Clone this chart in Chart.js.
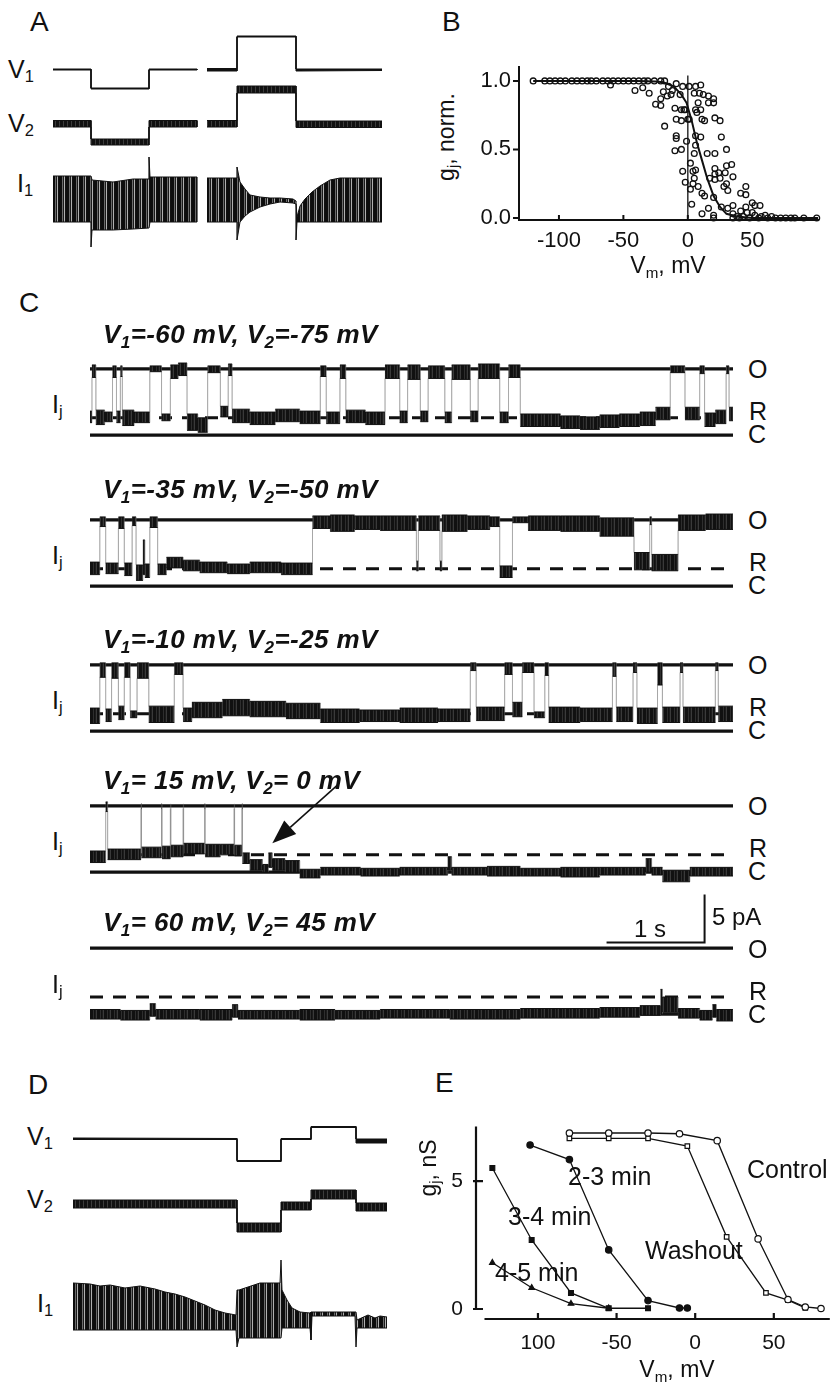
<!DOCTYPE html>
<html lang="en">
<head>
<meta charset="UTF-8">
<title>Junctional gating</title>
<script src="https://cdn.jsdelivr.net/npm/chart.js"></script>
<style>
  body { margin: 0; background: #fff; }
  #fig { position: relative; width: 835px; height: 1386px; overflow: hidden;
         font-family: 'Liberation Sans', Arial, Helvetica, sans-serif; color: #111; background: #fff; }
  #fig canvas { position: absolute; }
  .lbl { position: absolute; line-height: 1; white-space: nowrap; }
  .lbl sub { font-size: .66em; line-height: 0; vertical-align: baseline; position: relative; top: .28em; }
  .ttl { font-weight: bold; font-style: italic; letter-spacing: .4px; }
  .ctr { transform: translateX(-50%); }
  .rot { transform: translate(-50%, -50%) rotate(-90deg); }
</style>
</head>
<body>
<div id="fig"></div>
<script>
// ---------------- data ----------------
// Panel A: two sweeps, time in s, voltages in mV, current in nA.
// rows are [t, low, high] of the recorded trace, null starts the next sweep
const aV1 = [
  [0, -1, 1], [1.9, -1, 1], [1.9, -39, -37], [4.8, -39, -37], [4.8, -1, 1], [7.2, -1, 1], null,
  [7.7, -3, 2], [9.2, -3, 2], [9.2, 65, 67], [12.15, 65, 67], [12.15, -3, 1], [16.45, -2, 1]
];
const aV2 = [
  [0, -8, 5], [1.9, -8, 5], [1.9, -44, -32], [4.8, -44, -32], [4.8, -8, 5], [7.2, -8, 5], null,
  [7.7, -8, 5], [9.2, -8, 5], [9.2, 60, 74], [12.15, 60, 74], [12.15, -9, 4], [16.45, -9, 4]
];
const aI1 = [
  [0, 0, 4.6], [1.9, 0, 4.6], [1.9, -2.5, 4.6], [1.95, -0.8, 4.2], [3.0, -0.8, 4.0], [4.0, -0.7, 4.3],
  [4.8, -0.6, 4.3], [4.8, -0.6, 6.5], [4.85, 0, 4.5], [7.2, 0, 4.5], null,
  [7.7, 0, 4.4], [9.2, 0, 4.4], [9.2, -1.8, 5.5], [9.35, 0, 4.0], [9.6, 0.6, 3.3], [9.85, 1.0, 2.7],
  [10.35, 1.5, 2.5], [10.85, 1.8, 2.4], [11.35, 2.0, 2.4], [12.0, 1.9, 2.3], [12.15, 1.8, 2.1],
  [12.15, -1.8, 2.0], [12.2, 0, 0.5], [12.35, 0, 1.6], [12.6, 0, 2.3], [12.95, 0, 3.0],
  [13.35, 0, 3.6], [13.85, 0, 4.2], [14.35, 0, 4.4], [16.45, 0, 4.4]
];

// Panel B: normalized gj vs Vm, single points and Boltzmann fit
const bVm = [
  -120, -111, -107, -103, -99, -95, -90, -86, -82, -78, -75, -71, -66, -62, -58, -54, -50, -46, -42, -38, -34, -31, -26, -21, -18,
  -60, -41, -35, -30, -25, -21, -21, -18, -19, -16, -15, -13, -12, -10, -9, -9, -9, -10, -9, -6, -5, -5, -5, -4, -3, -2,
  -4, -2, -1, 0, 1, 1, 2, 2, 3, 5, 6, 4, 6, 4, 5, 6, 5, 6, 6, 8, 10, 10, 9, 11, 12, 13, 10, 8, 11, 13, 11, 16, 16, 15,
  16, 20, 20, 21, 21, 21, 21, 20, 20, 20, 21, 17, 25, 25, 24, 26, 26, 28, 29, 30, 30, 30, 31, 31, 34, 35, 35, 35, 35,
  41, 45, 45, 41, 45, 46, 50, 52, 56, 50, 38, 40, 43, 48, 52, 55, 57, 60, 62, 65, 68, 72, 76, 80, 83, 90, 100, 7
];
const bGj = [
  1, 1, 1, 1, 1, 1, 1, 1, 1, 1, 1, 1, 1, 1, 1, 1, 1, 1, 1, 1, 1, 1, 1, 1, 1,
  0.97, 0.93, 0.95, 0.91, 0.83, 0.82, 0.87, 0.67, 0.92, 0.89, 0.96, 0.90, 0.93, 0.80, 0.72, 0.60, 0.58, 0.49, 0.98, 0.90, 0.50, 0.71, 0.79, 0.96, 0.79, 0.79,
  0.34, 0.26, 0.56, 0.72, 0.72, 0.96, 0.40, 0.21, 0.10, 0.91, 0.96, 0.34, 0.35, 0.25, 0.29, 0.53, 0.47, 0.60, 0.79, 0.84, 0.79, 0.97, 0.91, 0.72, 0.90, 0.71, 0.59, 0.23, 0.18, 0.16, 0.03, 0.89, 0.07, 0.47,
  0.84, 0.87, 0.84, 0.47, 0.36, 0.32, 0.28, 0.15, 0.02, 0.0, 0.73, 0.29, 0.71, 0.29, 0.33, 0.08, 0.59, 0.23, 0.33, 0.50, 0.38, 0.25, 0.20, 0.07, 0.39, 0.30, 0.09, 0.03, 0.0,
  0.18, 0.17, 0.23, 0.05, 0.08, 0.04, 0.11, 0.09, 0.09, 0.04, 0.01, 0.0, 0.01, 0.0, 0.02, 0.0, 0.01, 0.02, 0.0, 0.01, 0.0, 0.0, 0.0, 0.0, 0.0, 0.0, 0.0, 0.77
];
const bFitVm = [-120, -40, -25, -19, -11, -5, -1, 3, 7, 11, 15, 20, 25, 30, 38, 50, 101];
const bFitGj = [1.0, 1.0, 0.995, 0.99, 0.96, 0.90, 0.84, 0.71, 0.55, 0.42, 0.29, 0.16, 0.08, 0.03, 0.01, 0.0, 0.0];
const bXTicks = [-100, -50, 0, 50];
const bYTicks = [0, 0.5, 1.0];

// Panel C: single-channel records, time in s, current in pA (closed = 0).
// each dwell is [start, end, low, high]
const levelO = 6.9, levelR = 1.8, levelC = 0, traceEnd = 6.56;
const cTrace1 = [
  [0, .02, 1.3, 2.5], [.02, .06, 6.0, 7.3], [.06, .15, 1.1, 2.6], [.15, .23, 1.4, 2.4], [.23, .27, 6.0, 7.2],
  [.27, .31, 1.3, 2.5], [.31, .33, 6.1, 7.2], [.33, .45, 1.0, 2.6], [.45, .61, 1.3, 2.4], [.61, .73, 6.6, 7.2],
  [.73, .82, 1.5, 2.2], [.82, .90, 5.9, 7.3], [.90, .99, 6.2, 7.5], [.99, 1.10, 0.5, 2.2], [1.10, 1.20, 0.3, 1.8],
  [1.20, 1.33, 6.5, 7.2], [1.33, 1.41, 1.9, 3.0], [1.41, 1.45, 6.2, 7.4], [1.45, 1.63, 1.3, 2.7], [1.63, 1.89, 1.1, 2.4],
  [1.89, 2.14, 1.4, 2.7], [2.14, 2.35, 1.2, 2.5], [2.35, 2.41, 6.1, 7.2], [2.41, 2.55, 1.2, 2.4], [2.55, 2.61, 5.9, 7.3],
  [2.61, 2.81, 1.3, 2.6], [2.81, 3.01, 1.1, 2.4], [3.01, 3.16, 5.9, 7.3], [3.16, 3.24, 1.3, 2.5], [3.24, 3.37, 5.8, 7.3],
  [3.37, 3.45, 1.4, 2.5], [3.45, 3.62, 5.9, 7.2], [3.62, 3.69, 1.3, 2.4], [3.69, 3.88, 5.8, 7.3], [3.88, 3.96, 1.4, 2.5],
  [3.96, 4.18, 5.9, 7.4], [4.18, 4.27, 1.3, 2.4], [4.27, 4.39, 6.0, 7.3], [4.39, 4.80, 0.9, 2.2], [4.80, 5.00, 0.7, 2.0],
  [5.00, 5.20, 0.6, 1.9], [5.20, 5.40, 0.8, 2.1], [5.40, 5.61, 0.9, 2.2], [5.61, 5.77, 1.0, 2.4], [5.77, 5.92, 1.6, 2.9],
  [5.92, 6.07, 6.5, 7.2], [6.07, 6.22, 1.6, 2.9], [6.22, 6.27, 6.4, 7.2], [6.27, 6.38, 0.9, 2.3], [6.38, 6.49, 1.2, 2.6],
  [6.49, 6.52, 6.4, 7.2], [6.52, 6.56, 1.5, 2.9]
];
const cTrace2 = [
  [0, .10, 1.2, 2.5], [.10, .16, 6.2, 7.2], [.16, .29, 1.3, 2.4], [.29, .35, 6.0, 7.2], [.35, .43, 1.1, 2.4],
  [.43, .47, 6.3, 7.2], [.47, .54, 0.6, 2.2], [.54, .56, 1.2, 4.8], [.56, .61, 0.9, 2.3], [.61, .69, 6.1, 7.2],
  [.69, .78, 1.2, 2.3], [.78, .95, 1.9, 3.0], [.95, 1.12, 1.6, 2.7], [1.12, 1.40, 1.4, 2.5], [1.40, 1.63, 1.3, 2.3],
  [1.63, 1.95, 1.4, 2.5], [1.95, 2.27, 1.2, 2.4], [2.27, 2.45, 6.0, 7.3], [2.45, 2.70, 5.7, 7.4], [2.70, 2.96, 5.9, 7.3],
  [2.96, 3.33, 5.8, 7.3], [3.33, 3.35, 1.6, 2.6], [3.35, 3.57, 5.8, 7.3], [3.57, 3.59, 1.6, 2.6], [3.59, 3.85, 5.7, 7.4],
  [3.85, 4.08, 5.9, 7.3], [4.08, 4.18, 6.2, 7.2], [4.18, 4.31, 0.9, 2.1], [4.31, 4.47, 6.6, 7.2], [4.47, 4.80, 5.8, 7.3],
  [4.80, 5.20, 5.7, 7.3], [5.20, 5.55, 5.2, 7.1], [5.55, 5.71, 1.7, 3.5], [5.71, 5.73, 6.4, 7.2], [5.73, 6.00, 1.6, 3.3],
  [6.00, 6.28, 5.8, 7.4], [6.28, 6.56, 5.9, 7.5]
];
const cTrace3 = [
  [0, .10, 0.8, 2.4], [.10, .16, 5.6, 7.1], [.16, .22, 1.0, 2.3], [.22, .29, 5.5, 7.1], [.29, .35, 1.2, 2.6],
  [.35, .41, 5.6, 7.1], [.41, .48, 1.4, 2.1], [.48, .60, 5.5, 7.1], [.60, .86, 0.9, 2.6], [.86, .95, 5.9, 7.1],
  [.95, 1.04, 1.0, 2.4], [1.04, 1.35, 1.4, 3.0], [1.35, 1.63, 1.6, 3.3], [1.63, 2.00, 1.5, 3.1], [2.00, 2.35, 1.3, 2.9],
  [2.35, 2.75, 0.9, 2.3], [2.75, 3.16, 1.0, 2.2], [3.16, 3.55, 0.9, 2.4], [3.55, 3.88, 1.0, 2.3], [3.88, 3.94, 6.3, 7.1],
  [3.94, 4.23, 1.1, 2.5], [4.23, 4.31, 5.9, 7.1], [4.31, 4.41, 1.5, 3.0], [4.41, 4.53, 6.1, 7.1], [4.53, 4.64, 1.4, 2.0],
  [4.64, 4.68, 5.8, 7.1], [4.68, 5.00, 0.9, 2.5], [5.00, 5.33, 1.0, 2.4], [5.33, 5.37, 5.7, 7.1], [5.37, 5.54, 1.0, 2.5],
  [5.54, 5.58, 6.1, 7.1], [5.58, 5.79, 0.8, 2.4], [5.79, 5.84, 4.8, 7.1], [5.84, 6.02, 0.9, 2.5], [6.02, 6.05, 6.1, 7.1],
  [6.05, 6.38, 0.9, 2.5], [6.38, 6.41, 6.3, 7.1], [6.41, 6.56, 1.0, 2.6]
];
const cTrace4 = [
  [0, .16, 1.0, 2.2], [.16, .18, 6.3, 7.3], [.18, .52, 1.3, 2.4], [.52, .525, 6.6, 7.1], [.525, .73, 1.5, 2.6],
  [.73, .735, 6.6, 7.1], [.735, .82, 1.4, 2.7], [.82, .825, 6.6, 7.1], [.825, .95, 1.6, 2.8], [.95, .955, 6.6, 7.1],
  [.955, 1.17, 1.9, 3.0], [1.17, 1.175, 6.6, 7.1], [1.175, 1.33, 1.6, 2.9], [1.33, 1.47, 1.8, 2.9], [1.47, 1.475, 6.6, 7.1],
  [1.475, 1.55, 1.7, 2.8], [1.55, 1.555, 6.6, 7.1], [1.555, 1.63, 0.9, 2.0], [1.63, 1.76, 0.2, 1.3], [1.76, 1.82, 0.0, 0.8],
  [1.82, 1.86, 0.5, 2.0], [1.86, 1.99, 0.2, 1.4], [1.99, 2.14, 0.0, 1.2], [2.14, 2.35, -0.6, 0.3], [2.35, 2.76, -0.3, 0.5],
  [2.76, 3.16, -0.4, 0.4], [3.16, 3.65, -0.3, 0.5], [3.65, 3.69, 0.2, 1.6], [3.69, 4.05, -0.3, 0.5], [4.05, 4.39, -0.4, 0.6],
  [4.39, 4.80, -0.4, 0.4], [4.80, 5.20, -0.5, 0.5], [5.20, 5.67, -0.3, 0.5], [5.67, 5.73, 0.0, 1.4], [5.73, 5.84, -0.3, 0.5],
  [5.84, 6.12, -1.0, 0.2], [6.12, 6.56, -0.4, 0.5]
];
const cTrace5 = [
  [0, .31, -0.5, 0.5], [.31, .61, -0.6, 0.4], [.61, .67, -0.2, 1.1], [.67, 1.12, -0.5, 0.5], [1.12, 1.45, -0.6, 0.5],
  [1.45, 1.51, -0.3, 1.0], [1.51, 2.14, -0.5, 0.4], [2.14, 2.50, -0.6, 0.5], [2.50, 2.96, -0.5, 0.4], [2.96, 3.67, -0.4, 0.5],
  [3.67, 4.39, -0.5, 0.5], [4.39, 5.20, -0.4, 0.6], [5.20, 5.61, -0.3, 0.7], [5.61, 5.82, -0.1, 0.9], [5.82, 5.84, 0.0, 2.6],
  [5.84, 6.00, 0.2, 1.8], [6.00, 6.22, -0.4, 0.6], [6.22, 6.35, -0.6, 0.4], [6.35, 6.39, -0.3, 1.0], [6.39, 6.56, -0.7, 0.5]
];
const scaleBarT = 1, scaleBarI = 5;

// Panel D: one long sweep, same units as panel A
const dV1 = [
  [0, -1, 2], [8.2, -1, 1], [8.2, -45, -43], [10.4, -45, -43], [10.4, -1, 1], [11.9, -1, 1],
  [11.9, 23, 25], [14.15, 23, 25], [14.15, -8, 0], [15.7, -8, 0]
];
const dV2 = [
  [0, -8, 8], [8.2, -8, 8], [8.2, -56, -38], [10.4, -56, -38], [10.4, -12, 4], [11.9, -12, 4],
  [11.9, 10, 28], [14.15, 10, 28], [14.15, -14, 2], [15.7, -14, 2]
];
const dI1 = [
  [0, -0.2, 4.5], [0.85, -0.2, 4.4], [1.35, -0.2, 4.2], [1.85, -0.2, 4.3], [2.6, -0.2, 4.0], [3.35, -0.2, 4.2],
  [4.1, -0.2, 3.9], [4.6, -0.2, 3.6], [5.1, -0.2, 3.4], [5.6, -0.2, 3.1], [6.1, -0.2, 2.7], [6.6, -0.2, 2.3],
  [7.1, -0.2, 1.8], [7.6, -0.2, 1.5], [8.15, -0.2, 1.3], [8.2, -1.9, 3.8], [8.3, -1.0, 3.8], [9.35, -1.0, 4.5],
  [10.35, -1.0, 4.5], [10.4, -1.0, 6.8], [10.45, 0, 3.8], [10.7, 0, 2.8], [10.95, 0, 2.0], [11.35, 0, 1.6],
  [11.85, 0, 1.5], [11.9, -1.2, 1.6], [11.95, 1.2, 1.6], [14.1, 1.2, 1.6], [14.15, -1.9, 1.6], [14.2, 0, 0.8],
  [14.75, 0, 1.3], [15.1, 0, 1.0], [15.35, 0, 1.2], [15.7, 0, 1.1]
];

// Panel E: gj (nS) vs Vm (mV) during exposure and washout
const eControlVm = [-80, -55, -30, -10, 14, 40, 59, 70, 80];
const eControlG  = [6.88, 6.88, 6.88, 6.85, 6.58, 2.74, 0.37, 0.08, 0.02];
const eWashVm = [-80, -55, -30, -5, 20, 45, 59, 70];
const eWashG  = [6.67, 6.67, 6.67, 6.37, 2.82, 0.63, 0.35, 0.04];
const e23Vm = [-105, -80, -55, -30, -10, -5];
const e23G  = [6.41, 5.84, 2.31, 0.33, 0.04, 0.04];
const e34Vm = [-129, -104, -79, -55, -30];
const e34G  = [5.51, 2.70, 0.63, 0.03, 0.03];
const e45Vm = [-129, -104, -79, -55];
const e45G  = [1.81, 0.83, 0.21, 0.03];
const eXTicks = [-100, -50, 0, 50];
const eXTickText = ['100', '-50', '0', '50'];
const eYTicks = [0, 5];

// ---------------- helpers ----------------
Chart.defaults.font.family = "'Liberation Sans', Arial, Helvetica, sans-serif";
Chart.defaults.color = '#111';
const fig = document.getElementById('fig');
const ink = '#111';

function txt(html, x, base, size, cls) {
  const d = document.createElement('div');
  d.className = 'lbl' + (cls ? ' ' + cls : '');
  d.innerHTML = html;
  d.style.left = x + 'px';
  d.style.top = (base - 0.85 * size) + 'px';
  d.style.fontSize = size + 'px';
  fig.appendChild(d);
}
function vtxt(html, cx, cy, size) {
  const d = document.createElement('div');
  d.className = 'lbl rot';
  d.innerHTML = html;
  d.style.left = cx + 'px';
  d.style.top = cy + 'px';
  d.style.fontSize = size + 'px';
  fig.appendChild(d);
}
function makeCanvas(left, top, w, h) {
  const c = document.createElement('canvas');
  c.width = Math.round(w); c.height = Math.round(h);
  c.style.left = left + 'px'; c.style.top = Math.round(top) + 'px';
  c.style.width = Math.round(w) + 'px'; c.style.height = Math.round(h) + 'px';
  fig.appendChild(c);
  return c;
}
const xy = (xs, ys) => xs.map((v, i) => ({x: v, y: ys[i]}));

// vertical striped fill, like a chart-recorder sweep of many pulses
function stripes(cols) {
  return ctx => {
    const c = document.createElement('canvas');
    c.width = cols.length; c.height = 1;
    const g = c.getContext('2d');
    cols.forEach((col, i) => { g.fillStyle = col; g.fillRect(i, 0, 1, 1); });
    return ctx.chart.ctx.createPattern(c, 'repeat');
  };
}

// [t, lo, hi] rows -> closed outlines (high edge forward, low edge back)
function bandShapes(rows) {
  const runs = []; let cur = [];
  rows.forEach(r => { if (r === null) { if (cur.length) runs.push(cur); cur = []; } else cur.push(r); });
  if (cur.length) runs.push(cur);
  return runs.map(run => [
    ...run.map(r => ({x: r[0], y: r[2]})),
    ...run.slice().reverse().map(r => ({x: r[0], y: r[1]}))
  ]);
}
function dwellRows(dwells) {
  const rows = [];
  dwells.forEach(d => rows.push([d[0], d[2], d[3]], [d[1], d[2], d[3]]));
  return rows;
}
function bandSets(rows, fill, jumpColor, jumpWidth) {
  const sets = [];
  bandShapes(rows).forEach(shape => {
    sets.push({
      data: shape, fill: false, pointRadius: 0, borderColor: ink, borderWidth: 1, clip: false,
      segment: {
        borderColor: s => s.p0.parsed.x === s.p1.parsed.x ? jumpColor : undefined,
        borderWidth: s => s.p0.parsed.x === s.p1.parsed.x ? jumpWidth : undefined
      }
    });
    sets.push({
      data: shape, fill: 'shape', pointRadius: 0, borderWidth: 0, borderColor: 'transparent',
      backgroundColor: fill, clip: false
    });
  });
  return sets;
}
function flatLine(y, x0, x1, width, dash) {
  return { data: [{x: x0, y}, {x: x1, y}], pointRadius: 0, borderColor: ink, borderWidth: width,
           borderDash: dash || [], fill: false, clip: false };
}

// chart with hidden axes placed so that data units map to a fixed pixel scale
function traceChart(box, datasets, plugins) {
  const w = (box.xMax - box.xMin) * box.pxX;
  const h = (box.yMax - box.yMin) * box.pxY;
  const top = box.zeroY - box.yMax * box.pxY;
  const c = makeCanvas(box.left, top, w, h);
  return new Chart(c, {
    type: 'line',
    data: { datasets },
    options: {
      responsive: false, animation: false, events: [],
      layout: { padding: 0 },
      plugins: { legend: { display: false }, tooltip: { enabled: false } },
      scales: {
        x: { type: 'linear', display: false, min: box.xMin, max: box.xMax },
        y: { type: 'linear', display: false, min: box.yMin, max: box.yMax }
      }
    },
    plugins: plugins || []
  });
}

// ---------------- panel A ----------------
const sweepFill = stripes(['#0d0d0d', '#0d0d0d', '#6a6a6a', '#1a1a1a', '#b0b0b0', '#111', '#0d0d0d']);
const voltFill = stripes(['#111', '#111', '#3c3c3c', '#111']);
traceChart({left: 53, zeroY: 69, pxX: 20, pxY: 0.5, xMin: 0, xMax: 16.45, yMin: -45, yMax: 75},
  bandSets(aV1, ink, ink, 1));
traceChart({left: 53, zeroY: 123, pxX: 20, pxY: 0.5, xMin: 0, xMax: 16.45, yMin: -50, yMax: 80},
  bandSets(aV2, voltFill, ink, 1));
traceChart({left: 53, zeroY: 222, pxX: 20, pxY: 10, xMin: 0, xMax: 16.45, yMin: -3, yMax: 7},
  bandSets(aI1, sweepFill, ink, 1.2));
txt('A', 30, 32, 28);
txt('V<sub>1</sub>', 8, 78, 25);
txt('V<sub>2</sub>', 8, 132, 25);
txt('I<sub>1</sub>', 17, 192, 25);

// ---------------- panel B ----------------
const bTickMarks = {
  id: 'bTickMarks',
  afterDraw(chart) {
    const {ctx, chartArea: a, scales: {x, y}} = chart;
    ctx.save(); ctx.strokeStyle = ink; ctx.lineWidth = 2; ctx.beginPath();
    bXTicks.forEach(v => { const p = x.getPixelForValue(v); ctx.moveTo(p, a.bottom); ctx.lineTo(p, a.bottom - 5); });
    bYTicks.forEach(v => { const p = y.getPixelForValue(v); ctx.moveTo(a.left, p); ctx.lineTo(a.left - 6, p); });
    ctx.stroke(); ctx.restore();
  }
};
new Chart(makeCanvas(469, 46, 355, 214), {
  type: 'line',
  data: {
    datasets: [
      { data: xy(bFitVm, bFitGj), pointRadius: 0, borderColor: ink, borderWidth: 2, fill: false, clip: false },
      { data: [{x: 0, y: 0}, {x: 0, y: 1.04}], pointRadius: 0, borderColor: ink, borderWidth: 1.3, fill: false },
      { data: xy(bVm, bGj), showLine: false, pointRadius: 2.9, pointBorderWidth: 1.3,
        pointBorderColor: ink, pointBackgroundColor: 'rgba(255,255,255,0)', clip: false }
    ]
  },
  options: {
    responsive: false, animation: false, events: [],
    layout: { padding: { top: 4, right: 6, left: 0, bottom: 0 } },
    plugins: { legend: { display: false }, tooltip: { enabled: false } },
    scales: {
      x: { type: 'linear', min: -131, max: 101,
           afterFit: s => { s.height = 40; },
           afterBuildTicks: s => { s.ticks = bXTicks.map(v => ({value: v})); },
           grid: { display: false, drawTicks: false },
           border: { display: true, color: ink, width: 2 },
           ticks: { padding: 8, font: { size: 22 }, maxRotation: 0 } },
      y: { type: 'linear', min: -0.015, max: 1.1,
           afterFit: s => { s.width = 50; },
           afterBuildTicks: s => { s.ticks = bYTicks.map(v => ({value: v})); },
           grid: { display: false, drawTicks: false },
           border: { display: true, color: ink, width: 2 },
           ticks: { padding: 8, font: { size: 22 }, callback: v => v.toFixed(1) } }
    }
  },
  plugins: [bTickMarks]
});
txt('B', 442, 32, 28);
vtxt('g<sub>j</sub>, norm.', 446, 137, 23);
txt('V<sub>m</sub>, mV', 668, 274, 23, 'ctr');

// ---------------- panel C ----------------
const cLayout = [
  { dwells: cTrace1, cY: 435, titleY: 343, title: 'V<sub>1</sub>=-60 mV, V<sub>2</sub>=-75 mV' },
  { dwells: cTrace2, cY: 586, titleY: 498, title: 'V<sub>1</sub>=-35 mV, V<sub>2</sub>=-50 mV' },
  { dwells: cTrace3, cY: 731, titleY: 648, title: 'V<sub>1</sub>=-10 mV, V<sub>2</sub>=-25 mV' },
  { dwells: cTrace4, cY: 872, titleY: 789, title: 'V<sub>1</sub>= 15 mV, V<sub>2</sub>= 0 mV' },
  { dwells: cTrace5, cY: 1015, titleY: 931, title: 'V<sub>1</sub>= 60 mV, V<sub>2</sub>= 45 mV' }
];
const channelFill = stripes(['#111', '#111', '#111', '#2e2e2e', '#111', '#1c1c1c', '#3a3a3a']);

// arrow pointing at the slow transition in the fourth record
const arrowPlugin = {
  id: 'arrow',
  afterDatasetsDraw(chart) {
    const {ctx, scales: {x, y}} = chart;
    const x0 = x.getPixelForValue(2.53), y0 = y.getPixelForValue(9.1);
    const x1 = x.getPixelForValue(1.86), y1 = y.getPixelForValue(3.0);
    const ang = Math.atan2(y1 - y0, x1 - x0), len = 24, half = 9;
    const bx = x1 - len * Math.cos(ang), by = y1 - len * Math.sin(ang);
    ctx.save(); ctx.strokeStyle = ink; ctx.fillStyle = ink; ctx.lineWidth = 1.6;
    ctx.beginPath(); ctx.moveTo(x0, y0); ctx.lineTo(bx, by); ctx.stroke();
    ctx.beginPath(); ctx.moveTo(x1, y1);
    ctx.lineTo(bx + half * Math.sin(ang), by - half * Math.cos(ang));
    ctx.lineTo(bx - half * Math.sin(ang), by + half * Math.cos(ang));
    ctx.closePath(); ctx.fill(); ctx.restore();
  }
};

cLayout.forEach((tr, i) => {
  const last = i === cLayout.length - 1;
  const sets = bandSets(dwellRows(tr.dwells), channelFill, 'rgba(110,110,110,0.35)', 0.6);
  sets.push(flatLine(levelO, 0, traceEnd, 3.2));
  sets.push(flatLine(levelR, 0, traceEnd, 3, [13, 10]));
  sets.push(flatLine(levelC, 0, traceEnd, 3.2));
  if (last) {
    sets.unshift({ data: [{x: traceEnd - 0.29 - scaleBarT, y: 7.5}, {x: traceEnd - 0.29, y: 7.5},
                          {x: traceEnd - 0.29, y: 7.5 + scaleBarI}],
                   pointRadius: 0, borderColor: ink, borderWidth: 2, fill: false, clip: false });
  }
  traceChart({left: 90, zeroY: tr.cY, pxX: 98, pxY: 9.6, xMin: 0, xMax: traceEnd,
              yMin: -3, yMax: last ? 13.5 : 10},
             sets, i === 3 ? [arrowPlugin] : []);
  const oY = tr.cY - 66;
  txt(tr.title, 103, tr.titleY, 26, 'ttl');
  txt('I<sub>j</sub>', 52, oY + 44, 25);
  txt('O', 748, oY + 9, 25);
  txt('R', 749, tr.cY - 15, 25);
  txt('C', 748, tr.cY + 8, 25);
});
txt('C', 19, 313, 28);
txt('1 s', 634, 937, 24);
txt('5 pA', 712, 925, 24);

// ---------------- panel D ----------------
traceChart({left: 73, zeroY: 1139, pxX: 20, pxY: 0.5, xMin: 0, xMax: 15.7, yMin: -50, yMax: 30},
  bandSets(dV1, ink, ink, 1));
traceChart({left: 73, zeroY: 1204, pxX: 20, pxY: 0.5, xMin: 0, xMax: 15.7, yMin: -60, yMax: 32},
  bandSets(dV2, voltFill, ink, 1));
traceChart({left: 73, zeroY: 1328, pxX: 20, pxY: 10, xMin: 0, xMax: 15.7, yMin: -2.5, yMax: 7.5},
  bandSets(dI1, sweepFill, ink, 1.2));
txt('D', 28, 1095, 28);
txt('V<sub>1</sub>', 27, 1145, 25);
txt('V<sub>2</sub>', 27, 1208, 25);
txt('I<sub>1</sub>', 37, 1312, 25);

// ---------------- panel E ----------------
const eAxes = {
  id: 'eAxes',
  afterDraw(chart) {
    const {ctx, chartArea: a, scales: {x, y}} = chart;
    ctx.save(); ctx.strokeStyle = ink; ctx.lineWidth = 2.2; ctx.beginPath();
    ctx.moveTo(a.left, y.getPixelForValue(0)); ctx.lineTo(a.left, a.top);
    eYTicks.forEach(v => { const p = y.getPixelForValue(v); ctx.moveTo(a.left - 3, p); ctx.lineTo(a.left + 7, p); });
    ctx.moveTo(x.getPixelForValue(-134), a.bottom); ctx.lineTo(a.right, a.bottom);
    eXTicks.forEach(v => { const p = x.getPixelForValue(v); ctx.moveTo(p, a.bottom); ctx.lineTo(p, a.bottom - 6); });
    ctx.stroke(); ctx.restore();
  }
};
const eSet = (vm, g, style, filled, r) => ({
  data: xy(vm, g), borderColor: ink, borderWidth: 1.3, fill: false, clip: false,
  pointStyle: style, pointRadius: r, pointBorderWidth: 1.2, pointBorderColor: ink,
  pointBackgroundColor: filled ? ink : '#fff'
});
new Chart(makeCanvas(436, 1101, 399, 258), {
  type: 'line',
  data: {
    datasets: [
      eSet(eControlVm, eControlG, 'circle', false, 3.2),
      eSet(eWashVm, eWashG, 'rect', false, 3.2),
      eSet(e23Vm, e23G, 'circle', true, 3.2),
      eSet(e34Vm, e34G, 'rect', true, 3.4),
      eSet(e45Vm, e45G, 'triangle', true, 3.2)
    ]
  },
  options: {
    responsive: false, animation: false, events: [],
    layout: { padding: { top: 6, right: 0, left: 0, bottom: 0 } },
    plugins: { legend: { display: false }, tooltip: { enabled: false } },
    scales: {
      x: { type: 'linear', min: -139.4, max: 85.6,
           afterFit: s => { s.height = 40; },
           afterBuildTicks: s => { s.ticks = eXTicks.map(v => ({value: v})); },
           grid: { display: false, drawTicks: false }, border: { display: false },
           ticks: { padding: 12, font: { size: 21 }, maxRotation: 0,
                    callback: v => eXTickText[eXTicks.indexOf(v)] } },
      y: { type: 'linear', min: -0.39, max: 7.13,
           afterFit: s => { s.width = 40; },
           afterBuildTicks: s => { s.ticks = eYTicks.map(v => ({value: v})); },
           grid: { display: false, drawTicks: false }, border: { display: false },
           ticks: { padding: 13, font: { size: 21 } } }
    }
  },
  plugins: [eAxes]
});
txt('E', 435, 1093, 28);
vtxt('g<sub>j</sub>, nS', 428, 1168, 23);
txt('V<sub>m</sub>, mV', 677, 1378, 23, 'ctr');
txt('2-3 min', 568, 1185, 25);
txt('3-4 min', 508, 1225, 25);
txt('4-5 min', 495, 1281, 25);
txt('Control', 747, 1178, 25);
txt('Washout', 645, 1259, 25);
</script>
</body>
</html>
